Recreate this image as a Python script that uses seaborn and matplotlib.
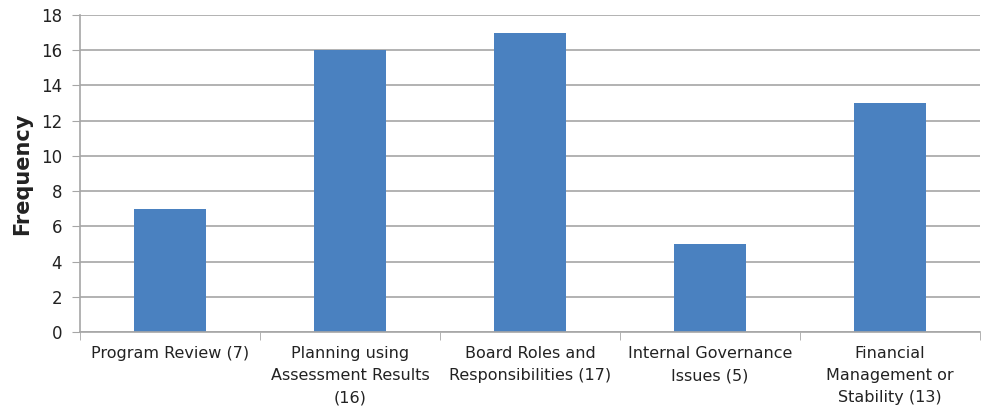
import matplotlib
matplotlib.use("Agg")
import matplotlib.pyplot as plt
import seaborn as sns
import pandas as pd
import numpy as np

categories = ["Program Review (7)", "Planning using\nAssessment Results\n(16)",
              "Board Roles and\nResponsibilities (17)", "Internal Governance\nIssues (5)",
              "Financial\nManagement or\nStability (13)"]
frequency = [7, 16, 17, 5, 13]
y_ticks = [0, 2, 4, 6, 8, 10, 12, 14, 16, 18]

sns.set_style("white")
plt.rcParams['font.family'] = ['DejaVu Sans']

df = pd.DataFrame({"category": categories, "frequency": frequency})

fig = plt.figure(figsize=(9.82, 4.11), dpi=100)
ax = fig.add_axes([0.0815, 0.192, 0.9165, 0.7715])
sns.barplot(data=df, x="category", y="frequency", color="#4A81C0", width=0.405,
            saturation=1, ax=ax, edgecolor="none")
ax.set_ylim(0, 18)
ax.set_xlim(-0.5, 4.5)
ax.set_yticks(y_ticks)
ax.yaxis.grid(True, color="#A6A6A6", linewidth=1.2)
ax.set_axisbelow(True)
for s in ["top", "right"]:
    ax.spines[s].set_visible(False)
ax.spines["left"].set_color("#A6A6A6")
ax.spines["bottom"].set_color("#A6A6A6")
ax.spines["left"].set_linewidth(1.2)
ax.spines["bottom"].set_linewidth(1.2)
ax.tick_params(axis="y", length=6, color="#A6A6A6", labelsize=12, pad=7, left=True,
               labelcolor="#222222")
ax.tick_params(axis="x", which="major", length=0, labelsize=11.5, pad=10,
               labelcolor="#222222")
for lbl in ax.get_xticklabels():
    lbl.set_linespacing(1.6)
ax.set_xticks(np.arange(-0.5, 5.0, 1.0), minor=True)
ax.tick_params(axis="x", which="minor", length=6, color="#A6A6A6", bottom=True)
ax.set_xlabel("")
ax.set_ylabel("Frequency", fontsize=15, fontweight="bold", labelpad=6, color="#222222")
fig.savefig("out.png", dpi=100)
